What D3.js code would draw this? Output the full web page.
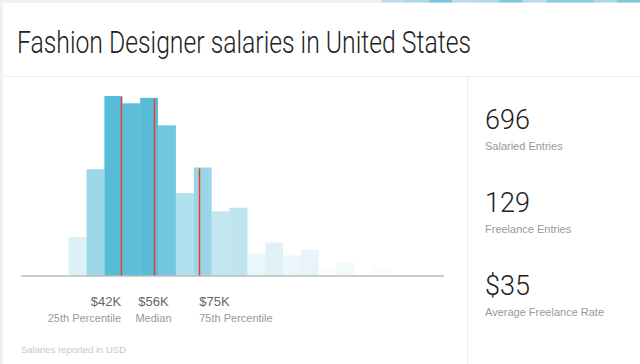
<!DOCTYPE html>
<html>
<head>
<meta charset="utf-8">
<script src="https://cdn.jsdelivr.net/npm/d3@7"></script>
<style>
  body { margin: 0; background: #f1f1f1; overflow: hidden; }
  svg { display: block; }
</style>
</head>
<body>
<svg id="chart"></svg>
<script>
// salary histogram, bins of $7.5K starting at $20K
const binStart = 20, binStep = 7.5;
const counts = [21, 58, 98, 94, 97, 82, 45, 59, 35, 37, 12, 18, 11, 14, 3, 7, 2, 4, 0, 0, 0];

const pctValues = [42, 55.6, 74.8];
const pctLabels = ["$42K", "$56K", "$75K"];
const pctNames = ["25th Percentile", "Median", "75th Percentile"];
const pctAnchor = ["end", "middle", "start"];

const statValues = ["696", "129", "$35"];
const statNames = ["Salaried Entries", "Freelance Entries", "Average Freelance Rate"];

// little strip of bars peeking along the top edge
const stripValues = [0.35, 0.45, 0.8, 0.35, 0.4, 0.75, 0.35, 0.65, 0.7, 0.45, 0.75];

const W = 640, H = 364;
const blue = "#56bbd9";

const svg = d3.select("#chart").attr("width", W).attr("height", H);

// white card
svg.append("rect")
    .attr("x", 3).attr("y", 3)
    .attr("width", W).attr("height", H)
    .attr("fill", "#fff");

const stripX = d3.scaleBand().domain(d3.range(stripValues.length)).range([382, 640]);
svg.selectAll("rect.strip")
    .data(stripValues)
    .join("rect")
    .attr("class", "strip")
    .attr("x", (d, i) => stripX(i))
    .attr("y", 0)
    .attr("width", stripX.bandwidth())
    .attr("height", 2.5)
    .attr("fill", blue)
    .attr("fill-opacity", d => d);

// title + dividers
svg.append("text")
    .attr("x", 17).attr("y", 53)
    .attr("textLength", 454)
    .attr("lengthAdjust", "spacingAndGlyphs")
    .style("font-family", "Roboto")
    .style("font-weight", 300)
    .style("font-size", "32px")
    .attr("fill", "#222")
    .text("Fashion Designer salaries in United States");

svg.append("line")
    .attr("x1", 3).attr("x2", W).attr("y1", 76.5).attr("y2", 76.5)
    .attr("stroke", "#eee");
svg.append("line")
    .attr("x1", 467.5).attr("x2", 467.5).attr("y1", 76.5).attr("y2", H)
    .attr("stroke", "#eee");

// histogram
const baseline = 275.5;
const x = d3.scaleLinear()
    .domain([0, binStart + binStep * counts.length])
    .range([21, 444]);
const y = d3.scaleLinear()
    .domain([0, d3.max(counts)])
    .range([baseline, 96]);

svg.selectAll("rect.bar")
    .data(counts)
    .join("rect")
    .attr("class", "bar")
    .attr("x", (d, i) => x(binStart + i * binStep))
    .attr("y", d => y(d))
    .attr("width", x(binStep) - x(0))
    .attr("height", d => baseline - y(d))
    .attr("fill", blue)
    .attr("fill-opacity", d => d / d3.max(counts));

svg.append("line")
    .attr("x1", 21).attr("x2", 444)
    .attr("y1", baseline + 0.5).attr("y2", baseline + 0.5)
    .attr("stroke", "#999");

const binOf = v => counts[Math.floor((v - binStart) / binStep)];

svg.selectAll("line.pct")
    .data(pctValues)
    .join("line")
    .attr("class", "pct")
    .attr("x1", d => Math.round(x(d)) + 0.5).attr("x2", d => Math.round(x(d)) + 0.5)
    .attr("y1", d => y(binOf(d)) + 1)
    .attr("y2", baseline)
    .attr("stroke", "#f03b26")
    .attr("stroke-width", 1.5);

svg.selectAll("text.pval")
    .data(pctValues)
    .join("text")
    .attr("class", "pval")
    .attr("x", d => x(d))
    .attr("y", 306)
    .attr("text-anchor", (d, i) => pctAnchor[i])
    .style("font-family", "Liberation Sans")
    .style("font-size", "13px")
    .attr("fill", "#666")
    .text((d, i) => pctLabels[i]);

svg.selectAll("text.pname")
    .data(pctValues)
    .join("text")
    .attr("class", "pname")
    .attr("x", d => x(d))
    .attr("y", 321.5)
    .attr("text-anchor", (d, i) => pctAnchor[i])
    .style("font-family", "Liberation Sans")
    .style("font-size", "11px")
    .attr("fill", "#999")
    .text((d, i) => pctNames[i]);

svg.append("text")
    .attr("x", 21).attr("y", 353)
    .style("font-family", "Liberation Sans")
    .style("font-size", "9.5px")
    .attr("fill", "#c8c8c8")
    .text("Salaries reported in USD");

// stats column
const statY = d3.scalePoint().domain(d3.range(statValues.length)).range([128.5, 294.5]);

svg.selectAll("text.sval")
    .data(statValues)
    .join("text")
    .attr("class", "sval")
    .attr("x", 485)
    .attr("y", (d, i) => statY(i))
    .style("font-family", "Roboto")
    .style("font-weight", 300)
    .style("font-size", "27px")
    .attr("fill", "#222")
    .text(d => d);

svg.selectAll("text.sname")
    .data(statNames)
    .join("text")
    .attr("class", "sname")
    .attr("x", 485)
    .attr("y", (d, i) => statY(i) + 21.5)
    .style("font-family", "Liberation Sans")
    .style("font-size", "11px")
    .attr("fill", "#999")
    .text(d => d);
</script>
</body>
</html>
